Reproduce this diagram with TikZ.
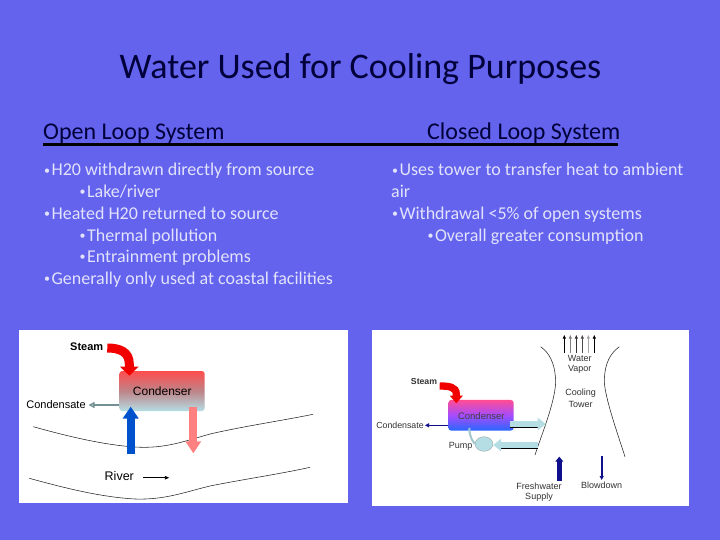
\documentclass[tikz,border=0pt]{standalone}
\usepackage{fontspec}
\setmainfont{Carlito}
\newfontfamily\diagfont{Liberation Sans}
\usetikzlibrary{arrows.meta,shapes.geometric}
\definecolor{slidebg}{HTML}{6363EE}
\definecolor{bodytxt}{HTML}{E2E2FC}
\definecolor{headtxt}{HTML}{00003A}
\definecolor{navyarrow}{HTML}{10108C}
\definecolor{paleblue}{HTML}{B4DDE4}
\newcommand{\slidebullet}{{\fontsize{12}{12}\selectfont\raisebox{1.6pt}{•}}\kern1.4pt}
\tikzset{
  x=1pt,y=-1pt,
  bodyline/.style={anchor=base west,inner sep=0pt,text=bodytxt,font=\fontsize{18}{18}\selectfont},
  heading/.style={anchor=base west,inner sep=0pt,text=headtxt,font=\fontsize{24}{24}\selectfont},
  panel/.style={fill=white,draw=none},
  biglabel/.style={inner sep=0pt,font=\diagfont\fontsize{11.5}{12}\selectfont,text=black},
  smalllabel/.style={inner sep=0pt,font=\diagfont\fontsize{9}{10}\selectfont,text=black!80},
  contourline/.style={draw=black!85,line width=0.55pt},
  condenserbox/.style={rounded corners=3pt,draw=none,inner sep=0pt},
}
\begin{document}
\begin{tikzpicture}
\useasboundingbox (0,0) rectangle (720,540);
\fill[slidebg] (0,0) rectangle (720,540);
% title
\node[anchor=base,inner sep=0pt,text=headtxt,font=\fontsize{36}{36}\selectfont] (title) at (360.5,79) {Water Used for Cooling Purposes};
% headings
\node[heading] (openhead) at (43,140) {Open Loop System};
\node[heading] (closedhead) at (427,140) {Closed Loop System};
\coordinate (ruleL) at (43,144.5);
\coordinate (ruleR) at (618,144.5);
\draw[black,line width=2.8pt] (ruleL) -- (ruleR);
% left text
\node[bodyline] (l1) at (44,176) {\slidebullet H20 withdrawn directly from source};
\node[bodyline] (l2) at (79.5,197.5) {\slidebullet Lake/river};
\node[bodyline] (l3) at (44,219.5) {\slidebullet Heated H20 returned to source};
\node[bodyline] (l4) at (79.5,241) {\slidebullet Thermal pollution};
\node[bodyline] (l5) at (79.5,262.5) {\slidebullet Entrainment problems};
\node[bodyline] (l6) at (44,284) {\slidebullet Generally only used at coastal facilities};
% right text
\node[bodyline] (r1) at (392,176) {\slidebullet Uses tower to transfer heat to ambient};
\node[bodyline] (r2) at (391,197.5) {air};
\node[bodyline] (r3) at (392,219.5) {\slidebullet Withdrawal <5\% of open systems};
\node[bodyline] (r4) at (427.5,241) {\slidebullet Overall greater consumption};
% panels
\fill[panel] (19,330) rectangle (348,503);
\fill[panel] (372,330) rectangle (689,506);

%%% LEFT DIAGRAM
\draw[contourline] (33.3,426.7) .. controls (70,437) and (105,445) .. (135,447) .. controls (165,449) and (185,441) .. (210,434) .. controls (245,426) and (280,421) .. (313,414.3);
\draw[contourline] (29.3,478.3) .. controls (65,488) and (100,497) .. (135,499) .. controls (165,500) and (185,492) .. (210,486) .. controls (245,479) and (280,474) .. (310,467.3);
\node[minimum width=85.4pt,minimum height=40pt,condenserbox,top color=red!70!white,bottom color=paleblue,middle color=black!20!red!40!paleblue] (condA) at (162,391) {};
\node[biglabel,font=\diagfont\fontsize{12}{12}\selectfont] (condAtext) at (162.3,391.7) {Condenser};
\node[biglabel,font=\diagfont\bfseries\fontsize{11}{12}\selectfont] (steamA) at (86.7,347) {Steam};
\node[biglabel,font=\diagfont\fontsize{11}{12}\selectfont] (condensateA) at (56,405) {Condensate};
\node[biglabel,font=\diagfont\fontsize{12.5}{12}\selectfont] (riverA) at (119.3,476) {River};
\coordinate (steamAstart) at (107.3,348);
\coordinate (steamAneck) at (129.3,364);
\coordinate (steamAtip) at (129.3,375.7);
\draw[red!95!black,line width=9pt,-{Triangle[length=9pt,width=18pt]}] (steamAstart) .. controls (120,348) and (129.3,352) .. (steamAneck) -- (steamAtip);
\coordinate (condensateAtip) at (88.5,405);
\draw[black!35!paleblue,line width=2.5pt,-{Triangle[length=6pt,width=6pt,open]}] (condA.west |- condensateAtip) -- (condensateAtip);
\coordinate (riverinbase) at (130.7,454);
\coordinate (riverintip) at (130.7,406.7);
\draw[blue!60!cyan!80!black,line width=8pt,-{Triangle[length=12pt,width=15.5pt]}] (riverinbase) -- (riverintip);
\coordinate (riveroutbase) at (193.3,406.7);
\coordinate (riverouttip) at (193.3,453.3);
\draw[red!50!white,line width=8pt,-{Triangle[length=12pt,width=15pt]}] (riveroutbase) -- (riverouttip);
\coordinate (flowstart) at (143.3,477.7);
\coordinate (flowend) at (169.3,477.7);
\draw[black,line width=0.9pt,-{Triangle[length=4.5pt,width=3.5pt]}] (flowstart) -- (flowend);

%%% RIGHT DIAGRAM
\draw[contourline] (540.7,346.7) .. controls (549,353) and (555,362) .. (555.7,381.7) .. controls (555,403) and (541,436) .. (535,455);
\draw[contourline] (619.3,346.7) .. controls (611,353) and (604.5,362) .. (604.3,381.7) .. controls (605,398) and (618,435) .. (625,456.7);
\node[minimum width=65.4pt,minimum height=30.7pt,condenserbox,top color=red!60!magenta!70!white,bottom color=blue!70!cyan!85!white,middle color=magenta!50!blue!70!white] (condB) at (481,415.3) {};
\node[smalllabel,font=\diagfont\fontsize{9.5}{10}\selectfont,text=black!75] (condBtext) at (481.3,415.7) {Condenser};
\node[smalllabel,font=\diagfont\bfseries\fontsize{8.7}{10}\selectfont] (steamB) at (424,381.7) {Steam};
\node[smalllabel,font=\diagfont\fontsize{8.8}{10}\selectfont] (condensateB) at (400,425.7) {Condensate};
\node[smalllabel] (pumpB) at (460.7,446) {Pump};
\node[smalllabel] (waterB) at (579.7,358.7) {Water};
\node[smalllabel] (vaporB) at (579.7,369.7) {Vapor};
\node[smalllabel] (coolingB) at (580.7,393.3) {Cooling};
\node[smalllabel] (towerB) at (580.7,404) {Tower};
\node[smalllabel] (freshB) at (539,486) {Freshwater};
\node[smalllabel] (supplyB) at (539,496.7) {Supply};
\node[smalllabel] (blowB) at (601.7,485.3) {Blowdown};
\coordinate (steamBstart) at (439.7,386);
\coordinate (steamBneck) at (456.3,394);
\coordinate (steamBtip) at (456.3,403.3);
\draw[red!95!black,line width=7.3pt,-{Triangle[length=7.7pt,width=12.7pt]}] (steamBstart) .. controls (449,386) and (456.3,387) .. (steamBneck) -- (steamBtip);
\coordinate (condensateBtip) at (425,425.3);
\draw[navyarrow,line width=1.6pt,-{Triangle[length=4pt,width=4pt]}] (condB.west |- condensateBtip) -- (condensateBtip);
% pump
\node[ellipse,draw=black!40,line width=0.3pt,fill=paleblue,minimum width=18pt,minimum height=14.6pt,inner sep=0pt] (pump) at (484,444) {};
\coordinate (pipetop) at (469.3,428);
\draw[paleblue!90!black,line width=2pt] (pipetop) .. controls (469.5,438) and (473,441) .. (pump.west);
% to tower
\coordinate (outbase) at (510.3,424);
\coordinate (outtip) at (546,424);
\draw[black,line width=1pt] (510.3,427.5) -- (538,427.5);
\draw[paleblue,line width=5.5pt,-{Triangle[length=8.3pt,width=12pt]}] (outbase) -- (outtip);
\coordinate (backbase) at (538.3,445);
\coordinate (backtip) at (493.3,445);
\draw[black,line width=0.8pt] (501,448.6) -- (538.3,448.6);
\draw[paleblue,line width=6pt,-{Triangle[length=7.7pt,width=12pt]}] (backbase) -- (backtip);
% vapor arrows
\foreach \ax/\acol in {564.3/black,570.3/black!50,576.3/black!80,582.3/black!70,588.3/black!35,594.3/black}{
  \coordinate (va) at (\ax,352.7);
  \coordinate (vb) at (\ax,335);
  \draw[\acol,line width=0.7pt,-{Triangle[length=3.5pt,width=3pt]}] (va) -- (vb);
}
\coordinate (freshbase) at (559.3,480.7);
\coordinate (freshtip) at (559.3,456.7);
\draw[navyarrow,line width=4.5pt,-{Triangle[length=5pt,width=8pt]}] (freshbase) -- (freshtip);
\coordinate (blowbase) at (601.7,456);
\coordinate (blowtip) at (601.7,480);
\draw[navyarrow,line width=1.6pt,-{Triangle[length=4pt,width=4pt]}] (blowbase) -- (blowtip);
\end{tikzpicture}
\end{document}
